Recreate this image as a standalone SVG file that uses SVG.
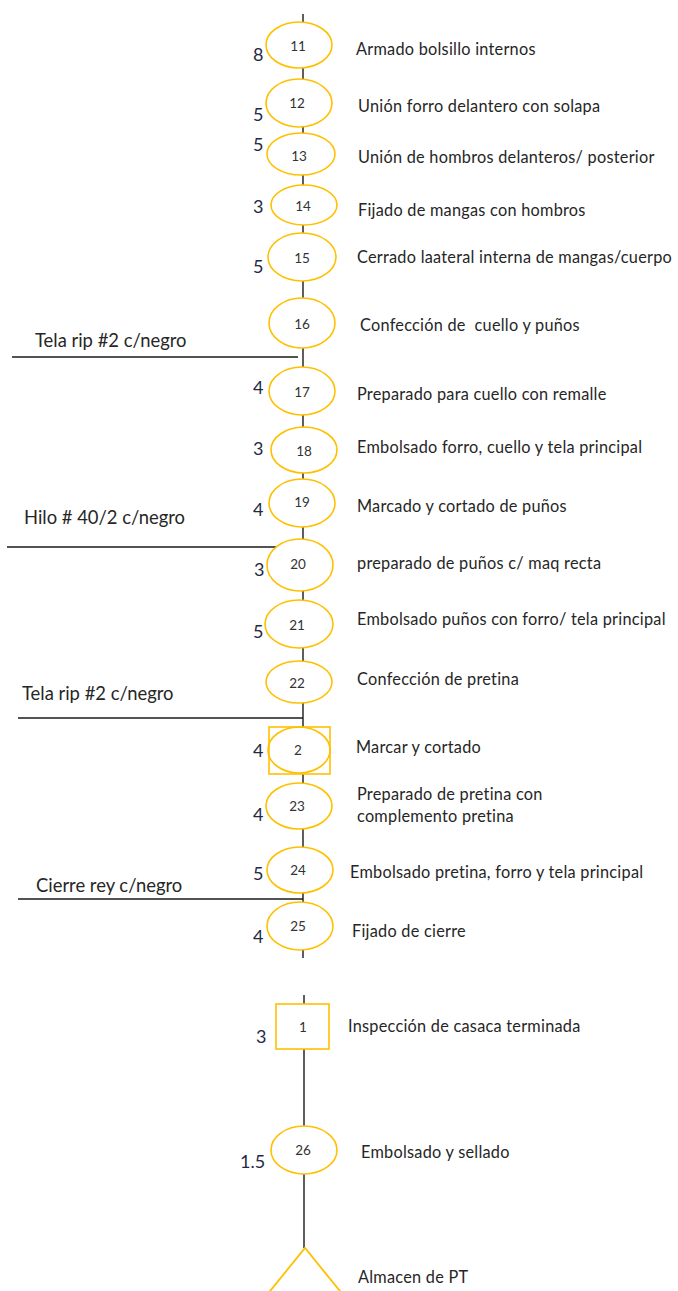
<svg xmlns="http://www.w3.org/2000/svg" width="678" height="1291" viewBox="0 0 678 1291">
  <style>
    .op { fill: #ffffff; stroke: #ffc000; stroke-width: 1.6; }
    .ln { stroke: #1a1a1a; stroke-width: 1.4; fill: none; }
    .num { font-family: Lato, "Liberation Sans", sans-serif; font-size: 13.5px; fill: #333333; text-anchor: middle; }
    .lbl { font-family: Lato, "Liberation Sans", sans-serif; font-size: 16.3px; letter-spacing: 0.25px; fill: #262626; white-space: pre; }
    .tm { font-family: Lato, "Liberation Sans", sans-serif; font-size: 18px; fill: #1f2a44; }
    .mat { font-family: Lato, "Liberation Sans", sans-serif; font-size: 18.4px; fill: #262626; }
  </style>
  <rect width="678" height="1291" fill="#ffffff"/>

  <!-- main flow line and material inputs -->
  <g id="connectors">
    <line class="ln" x1="303" y1="14" x2="303" y2="958"/>
    <line class="ln" x1="304" y1="995" x2="304" y2="1248"/>
    <line class="ln" x1="12" y1="357" x2="298" y2="357"/>
    <line class="ln" x1="7" y1="547" x2="276" y2="547"/>
    <line class="ln" x1="18" y1="718" x2="303" y2="718"/>
    <line class="ln" x1="18" y1="899" x2="303" y2="899"/>
  </g>

  <g id="input-tela-1">
    <text class="mat" x="35" y="347">Tela rip #2 c/negro</text>
  </g>
  <g id="input-hilo">
    <text class="mat" x="24" y="524">Hilo # 40/2 c/negro</text>
  </g>
  <g id="input-tela-2">
    <text class="mat" x="22" y="700">Tela rip #2 c/negro</text>
  </g>
  <g id="input-cierre">
    <text class="mat" x="36" y="892">Cierre rey c/negro</text>
  </g>

  <g id="op11">
    <ellipse class="op" cx="299" cy="45" rx="33" ry="23"/>
    <text class="num" x="298" y="51">11</text>
    <text class="tm" x="253" y="61">8</text>
    <text class="lbl" x="356" y="55">Armado bolsillo internos</text>
  </g>
  <g id="op12">
    <ellipse class="op" cx="299" cy="103" rx="33" ry="24"/>
    <text class="num" x="297" y="108">12</text>
    <text class="tm" x="253" y="121">5</text>
    <text class="lbl" x="358" y="112">Unión forro delantero con solapa</text>
  </g>
  <g id="op13">
    <ellipse class="op" cx="301" cy="154" rx="34" ry="21"/>
    <text class="num" x="299" y="161">13</text>
    <text class="tm" x="253" y="151">5</text>
    <text class="lbl" x="358" y="163">Unión de hombros delanteros/ posterior</text>
  </g>
  <g id="op14">
    <ellipse class="op" cx="304" cy="205" rx="33" ry="20"/>
    <text class="num" x="303" y="211">14</text>
    <text class="tm" x="253" y="213">3</text>
    <text class="lbl" x="358" y="216">Fijado de mangas con hombros</text>
  </g>
  <g id="op15">
    <ellipse class="op" cx="302" cy="257" rx="34" ry="24"/>
    <text class="num" x="302" y="263">15</text>
    <text class="tm" x="253" y="273">5</text>
    <text class="lbl" x="357" y="263">Cerrado laateral interna de mangas/cuerpo</text>
  </g>
  <g id="op16">
    <ellipse class="op" cx="302" cy="323" rx="33" ry="25"/>
    <text class="num" x="302" y="329">16</text>
    <text class="lbl" x="360" y="331">Confección de  cuello y puños</text>
  </g>
  <g id="op17">
    <ellipse class="op" cx="302" cy="391" rx="33" ry="24"/>
    <text class="num" x="302" y="397">17</text>
    <text class="tm" x="253" y="394">4</text>
    <text class="lbl" x="357" y="400">Preparado para cuello con remalle</text>
  </g>
  <g id="op18">
    <ellipse class="op" cx="304" cy="450" rx="33" ry="23"/>
    <text class="num" x="304" y="456">18</text>
    <text class="tm" x="253" y="455">3</text>
    <text class="lbl" x="357" y="453">Embolsado forro, cuello y tela principal</text>
  </g>
  <g id="op19">
    <ellipse class="op" cx="302" cy="503" rx="33" ry="24"/>
    <text class="num" x="302" y="507">19</text>
    <text class="tm" x="253" y="516">4</text>
    <text class="lbl" x="357" y="512">Marcado y cortado de puños</text>
  </g>
  <g id="op20">
    <ellipse class="op" cx="300" cy="565" rx="33" ry="26"/>
    <text class="num" x="298" y="569">20</text>
    <text class="tm" x="254" y="576">3</text>
    <text class="lbl" x="357" y="569">preparado de puños c/ maq recta</text>
  </g>
  <g id="op21">
    <ellipse class="op" cx="299" cy="624" rx="34" ry="24"/>
    <text class="num" x="297" y="630">21</text>
    <text class="tm" x="253" y="638">5</text>
    <text class="lbl" x="357" y="625">Embolsado puños con forro/ tela principal</text>
  </g>
  <g id="op22">
    <ellipse class="op" cx="299" cy="682" rx="33" ry="21"/>
    <text class="num" x="297" y="688">22</text>
    <text class="lbl" x="357" y="685">Confección de pretina</text>
  </g>
  <g id="op-insp2">
    <rect class="op" x="269" y="727" width="61" height="47"/>
    <ellipse fill="none" stroke="#ffc000" stroke-width="1.6" cx="299" cy="750" rx="31" ry="23"/>
    <text class="num" x="298" y="755">2</text>
    <text class="tm" x="253" y="757">4</text>
    <text class="lbl" x="356" y="753">Marcar y cortado</text>
  </g>
  <g id="op23">
    <ellipse class="op" cx="299" cy="806" rx="33" ry="23"/>
    <text class="num" x="297" y="811">23</text>
    <text class="tm" x="253" y="821">4</text>
    <text class="lbl" x="357" y="800">Preparado de pretina con</text>
    <text class="lbl" x="357" y="822">complemento pretina</text>
  </g>
  <g id="op24">
    <ellipse class="op" cx="300" cy="870" rx="33" ry="23"/>
    <text class="num" x="298" y="875">24</text>
    <text class="tm" x="253" y="880">5</text>
    <text class="lbl" x="350" y="878">Embolsado pretina, forro y tela principal</text>
  </g>
  <g id="op25">
    <ellipse class="op" cx="300" cy="926" rx="33" ry="24"/>
    <text class="num" x="298" y="931">25</text>
    <text class="tm" x="253" y="943">4</text>
    <text class="lbl" x="352" y="937">Fijado de cierre</text>
  </g>
  <g id="insp1">
    <rect class="op" x="276" y="1004" width="53" height="45"/>
    <text class="num" x="303" y="1032">1</text>
    <text class="tm" x="256" y="1043">3</text>
    <text class="lbl" x="348" y="1032">Inspección de casaca terminada</text>
  </g>
  <g id="op26">
    <ellipse class="op" cx="304" cy="1150" rx="33" ry="24"/>
    <text class="num" x="303" y="1155">26</text>
    <text class="tm" x="240" y="1168">1.5</text>
    <text class="lbl" x="361" y="1158">Embolsado y sellado</text>
  </g>
  <g id="almacen">
    <polyline fill="none" stroke="#ffc000" stroke-width="1.8" points="266,1296 305,1248 344,1296"/>
    <text class="lbl" x="358" y="1283">Almacen de PT</text>
  </g>
</svg>
